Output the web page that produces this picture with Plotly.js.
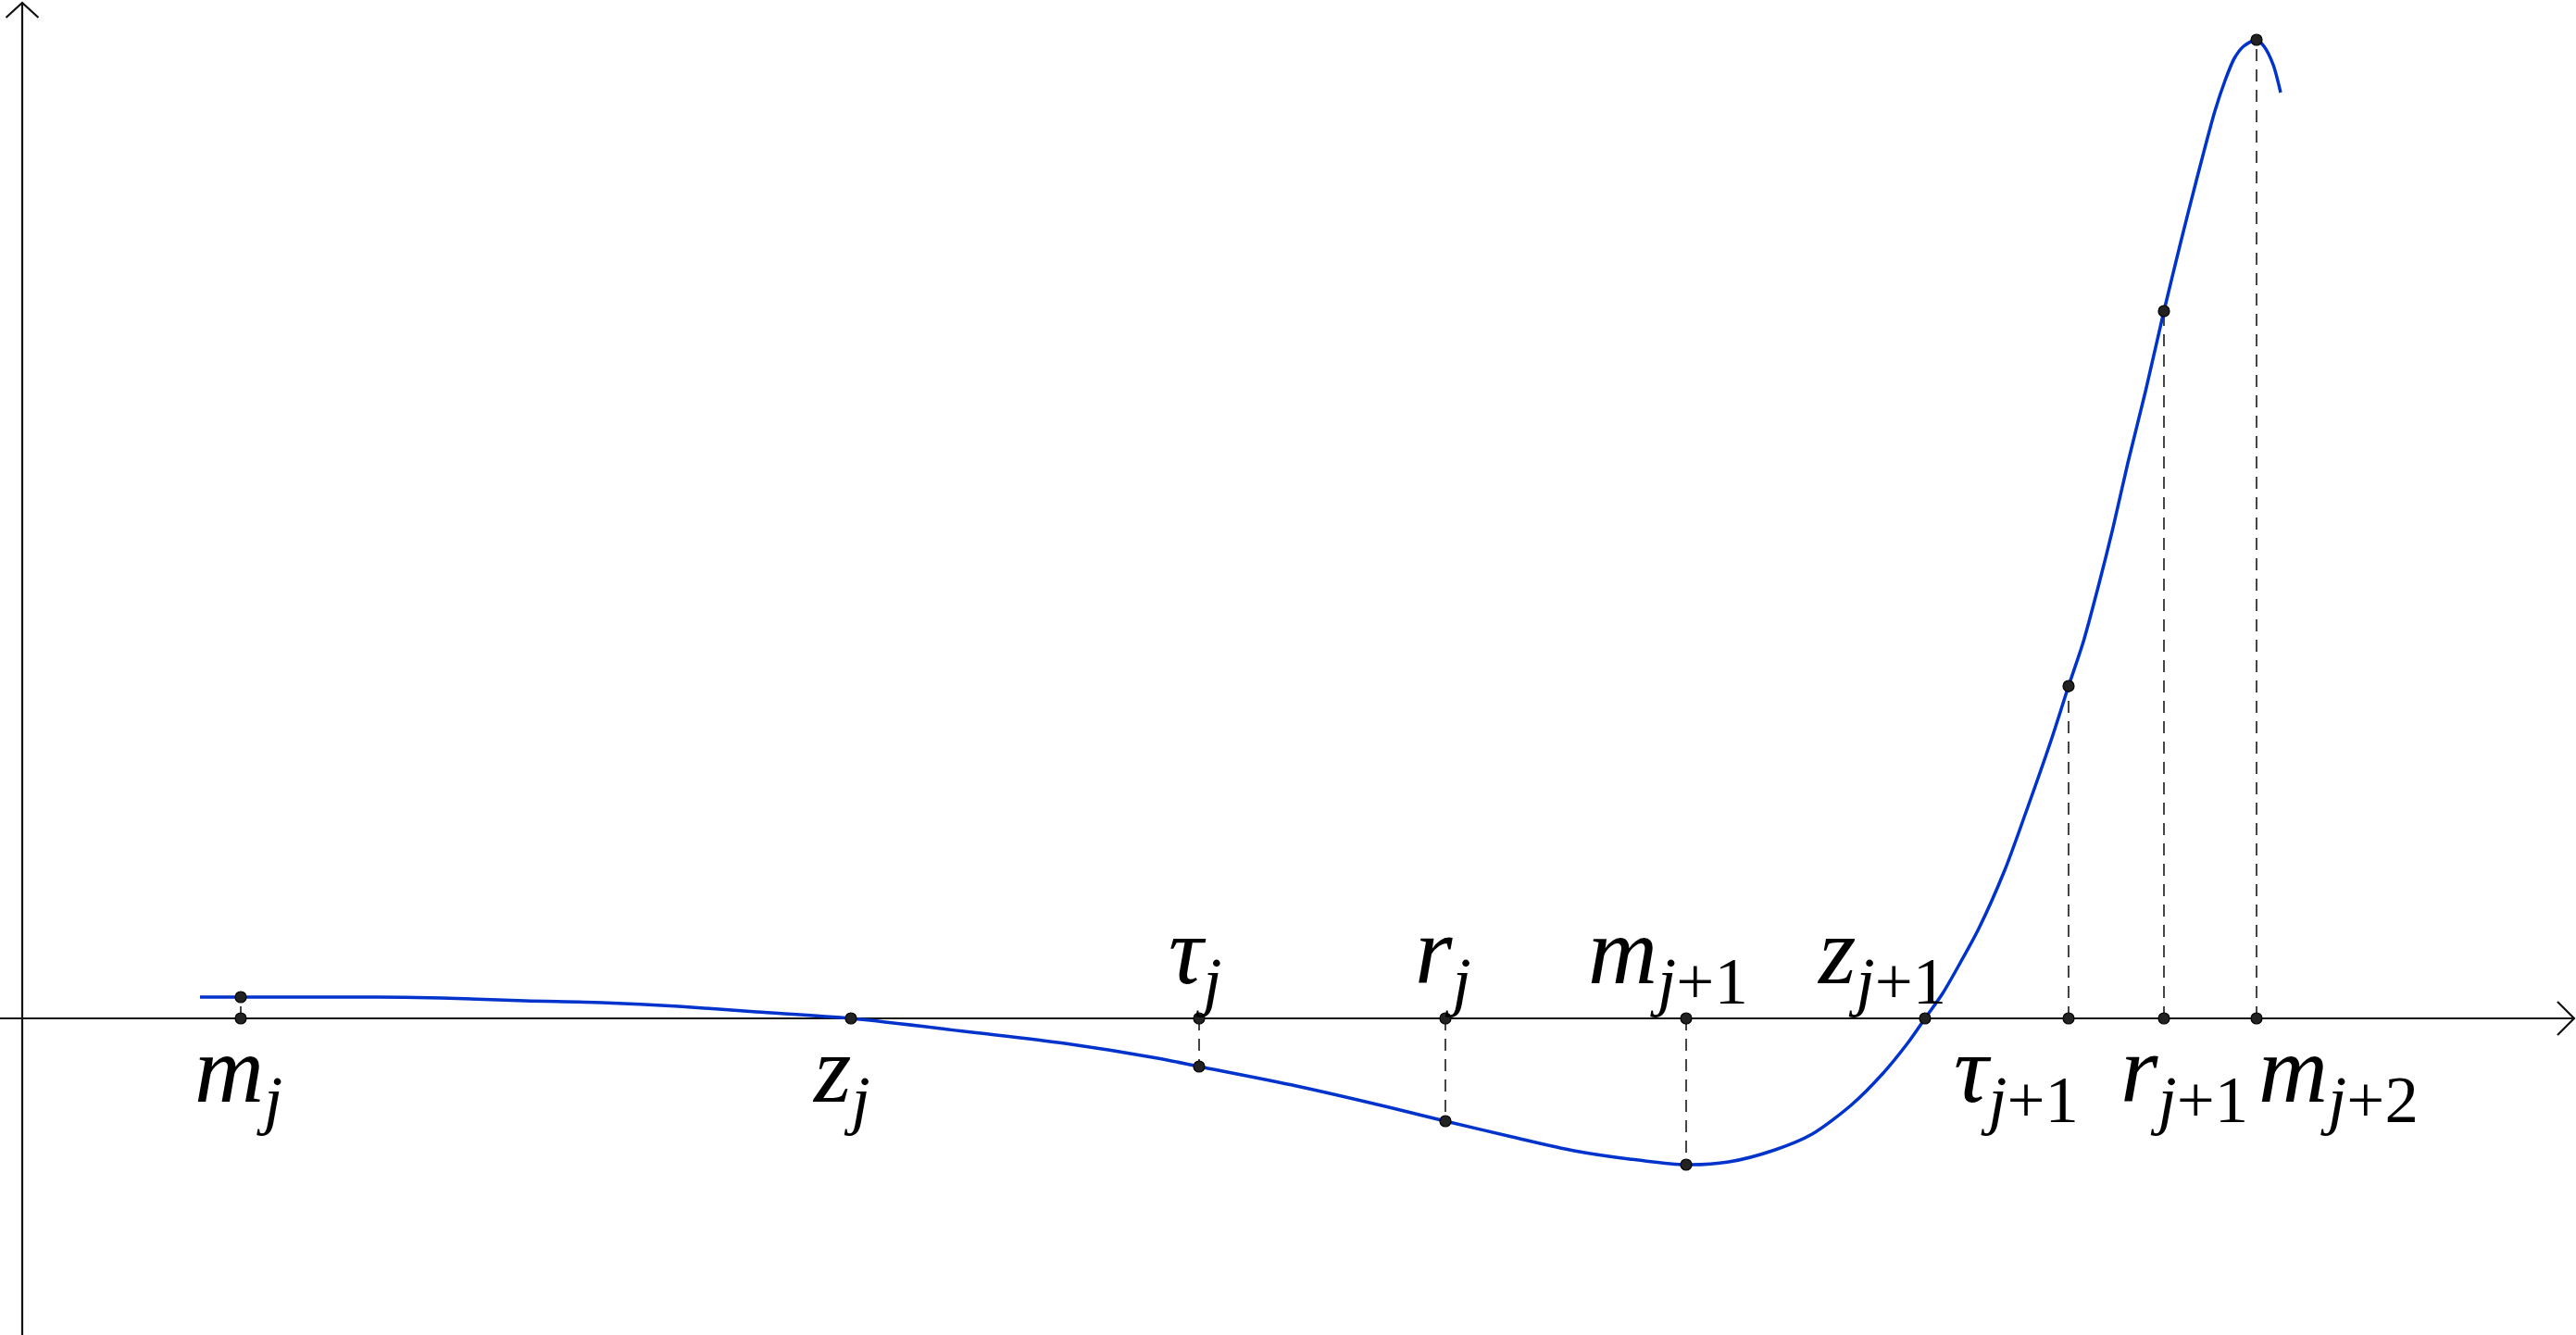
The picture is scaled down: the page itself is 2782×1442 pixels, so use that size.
<!DOCTYPE html>
<html>
<head>
<meta charset="utf-8">
<script src="https://cdn.plot.ly/plotly-3.0.1.min.js"></script>
<style>html,body{margin:0;padding:0;background:#fff;}#chart{width:2782px;height:1442px;}</style>
</head>
<body>
<div id="chart"></div>
<script>
// Curve samples (units: 1 unit = 100 px of the reference, origin at axes crossing)
const curveX = [1.92, 2.36, 3.84, 4.53, 5.43, 6.26, 7.09, 7.93, 8.95, 10.26, 11.26, 12.26, 12.71, 13.76, 14.76, 15.37, 16.09, 16.76, 17.36, 17.96, 18.43, 18.93, 19.33, 19.76, 20.09, 20.36, 20.55, 20.74, 20.93, 21.13, 21.41, 21.63, 21.91, 22.10, 22.26, 22.43, 22.58, 22.74, 22.93, 23.13, 23.31, 23.48, 23.68, 23.79, 23.89, 23.99, 24.13, 24.21, 24.31, 24.39];
const curveY = [0.23, 0.23, 0.23, 0.22, 0.19, 0.17, 0.13, 0.07, 0.00, -0.15, -0.27, -0.43, -0.52, -0.73, -0.96, -1.11, -1.28, -1.43, -1.52, -1.58, -1.55, -1.42, -1.25, -0.93, -0.60, -0.27, 0.00, 0.27, 0.60, 0.97, 1.60, 2.20, 3.00, 3.59, 4.07, 4.70, 5.30, 6.00, 6.77, 7.64, 8.38, 9.05, 9.80, 10.13, 10.37, 10.50, 10.57, 10.50, 10.30, 10.00];

// Marked points
const pointNames = ['m_j', 'z_j', 'tau_j', 'r_j', 'm_j+1', 'z_j+1', 'tau_j+1', 'r_j+1', 'm_j+2'];
const pointX = [2.36, 8.95, 12.71, 15.37, 17.97, 20.55, 22.10, 23.13, 24.13];
const pointF = [0.23, 0.00, -0.52, -1.11, -1.58, 0.00, 3.59, 7.64, 10.57];
const labelText = [
  '<i>m</i><sub><i>j</i></sub>',
  '<i>z</i><sub><i>j</i></sub>',
  '<i>τ</i><sub><i>j</i></sub>',
  '<i>r</i><sub><i>j</i></sub>',
  '<i>m</i><sub><i>j</i>+1</sub>',
  '<i>z</i><sub><i>j</i>+1</sub>',
  '<i>τ</i><sub><i>j</i>+1</sub>',
  '<i>r</i><sub><i>j</i>+1</sub>',
  '<i>m</i><sub><i>j</i>+2</sub>'
];
const labelSide = ['below', 'below', 'above', 'above', 'above', 'above', 'below', 'below', 'below'];
const labelShift = [-52, -44, -35, -35, -108, -119, -126, -49, 0];

// Axis extents
const xRange = [-0.24, 27.58];
const yRange = [-3.42, 11.0];
const xTip = 27.56, yTip = 10.97;

const traces = [];

// dashed drop lines
const dx = [], dy = [];
pointX.forEach((x, i) => {
  if (pointF[i] !== 0) { dx.push(x, x, null); dy.push(0, pointF[i], null); }
});
traces.push({x: dx, y: dy, mode: 'lines', line: {color: '#454545', width: 2, dash: '13px,9px'}, hoverinfo: 'skip', showlegend: false});

// axes
const axisLine = {color: '#111', width: 2.2};
traces.push({x: [xRange[0], xTip], y: [0, 0], mode: 'lines', line: axisLine, hoverinfo: 'skip', showlegend: false});
traces.push({x: [0, 0], y: [yRange[0], yTip], mode: 'lines', line: axisLine, hoverinfo: 'skip', showlegend: false});
// open arrowheads
traces.push({x: [xTip - 0.18, xTip, xTip - 0.18], y: [0.18, 0, -0.18], mode: 'lines', line: axisLine, hoverinfo: 'skip', showlegend: false});
traces.push({x: [-0.175, 0, 0.175], y: [yTip - 0.16, yTip, yTip - 0.16], mode: 'lines', line: axisLine, hoverinfo: 'skip', showlegend: false});

// curve
traces.push({x: curveX, y: curveY, mode: 'lines', line: {color: '#0033cc', width: 3.5, shape: 'spline', smoothing: 0.8}, hoverinfo: 'skip', showlegend: false});

// points on axis and on curve
const dot = {color: '#222', size: 12, line: {color: '#000', width: 1.2}};
traces.push({x: pointX, y: pointX.map(() => 0), mode: 'markers', marker: dot, hoverinfo: 'skip', showlegend: false});
const cx = [], cy = [];
pointX.forEach((x, i) => { if (pointF[i] !== 0) { cx.push(x); cy.push(pointF[i]); } });
traces.push({x: cx, y: cy, mode: 'markers', marker: dot, hoverinfo: 'skip', showlegend: false});

const labelFont = 'Liberation Serif';
const annotations = pointX.map((x, i) => ({
  x: x, y: 0, xref: 'x', yref: 'y', text: labelText[i], showarrow: false,
  xanchor: 'left', xshift: labelShift[i],
  yanchor: labelSide[i] === 'above' ? 'bottom' : 'top',
  yshift: labelSide[i] === 'above' ? -2 : 5,
  font: {family: labelFont, size: 104, color: '#000'}
}));

const layout = {
  width: 2782, height: 1442,
  margin: {l: 0, r: 0, t: 0, b: 0},
  paper_bgcolor: '#fff', plot_bgcolor: '#fff',
  font: {family: labelFont},
  xaxis: {range: xRange, visible: false, fixedrange: true},
  yaxis: {range: yRange, visible: false, fixedrange: true},
  annotations: annotations,
  showlegend: false
};

Plotly.newPlot('chart', traces, layout, {staticPlot: true, displayModeBar: false});
</script>
</body>
</html>
